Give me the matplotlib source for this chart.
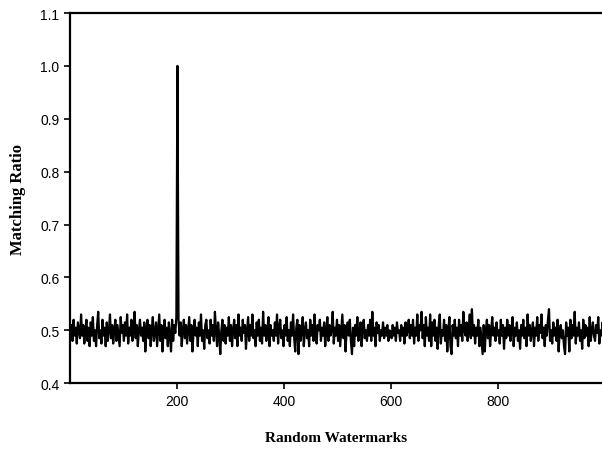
import matplotlib
matplotlib.use('Agg')
import matplotlib.pyplot as plt
import numpy as np

# matching ratio of the random watermarks (one value every 2 marks)
matching_ratio = [
    .495, .51, .48, .52, .49, .505, .475, .515, .50, .485,
    .53, .49, .51, .475, .50, .52, .48, .505, .47, .515,
    .49, .525, .48, .50, .47, .51, .535, .485, .50, .475,
    .52, .49, .505, .47, .515, .48, .50, .53, .485, .51,
    .475, .50, .52, .48, .51, .49, .47, .525, .495, .51,
    .48, .515, .49, .53, .475, .505, .49, .52, .48, .50,
    .535, .485, .51, .47, .50, .52, .49, .505, .48, .515,
    .46, .50, .52, .485, .51, .47, .50, .525, .48, .495,
    .515, .47, .50, .53, .48, .51, .46, .495, .52, .485,
    .505, .47, .515, .49, .46, .52, .48, .51, .495, .525,
    1.0, .52, .49, .515, .47, .50, .52, .485, .51, .475,
    .50, .525, .48, .51, .46, .495, .52, .49, .505, .47,
    .515, .49, .53, .48, .50, .465, .51, .52, .485, .50,
    .475, .52, .49, .51, .48, .535, .50, .47, .515, .49,
    .455, .50, .52, .48, .51, .475, .505, .49, .525, .48,
    .51, .47, .50, .52, .485, .51, .47, .53, .49, .505,
    .48, .52, .495, .51, .465, .50, .525, .48, .51, .49,
    .53, .485, .50, .47, .515, .49, .52, .48, .505, .475,
    .535, .49, .51, .48, .50, .525, .47, .51, .49, .50,
    .48, .515, .49, .53, .475, .505, .52, .485, .50, .47,
    .51, .49, .525, .48, .50, .47, .515, .49, .53, .485,
    .46, .505, .52, .455, .51, .48, .50, .525, .47, .50,
    .515, .485, .50, .47, .52, .49, .51, .48, .53, .495,
    .475, .51, .50, .52, .48, .505, .49, .515, .47, .50,
    .525, .48, .51, .49, .50, .535, .475, .505, .49, .52,
    .48, .51, .47, .50, .53, .485, .51, .46, .50, .515,
    .49, .52, .48, .455, .505, .47, .51, .49, .525, .48,
    .50, .515, .47, .505, .52, .485, .50, .48, .51, .49,
    .52, .48, .535, .49, .505, .47, .515, .495, .51, .48,
    .50, .49, .515, .485, .505, .49, .51, .48, .50, .495,
    .485, .51, .49, .505, .48, .515, .495, .50, .48, .51,
    .49, .505, .475, .515, .49, .50, .52, .485, .51, .49,
    .52, .475, .505, .49, .53, .48, .51, .50, .535, .485,
    .51, .47, .525, .49, .505, .48, .53, .47, .515, .49,
    .52, .48, .505, .465, .51, .53, .475, .50, .49, .52,
    .48, .51, .46, .50, .525, .47, .455, .51, .49, .52,
    .485, .505, .47, .52, .49, .51, .48, .535, .50, .49,
    .515, .48, .50, .53, .485, .54, .49, .51, .475, .505,
    .49, .52, .47, .505, .48, .455, .51, .46, .50, .52,
    .485, .51, .47, .50, .525, .49, .505, .48, .515, .49,
    .50, .475, .52, .49, .51, .465, .505, .485, .52, .49,
    .51, .48, .50, .525, .47, .505, .49, .515, .48, .50,
    .465, .51, .49, .52, .485, .505, .47, .53, .49, .51,
    .48, .50, .515, .47, .505, .49, .525, .48, .51, .495,
    .53, .485, .505, .47, .51, .49, .52, .54, .48, .50,
    .475, .515, .49, .505, .48, .52, .46, .50, .51, .485,
    .50, .47, .455, .515, .49, .505, .46, .52, .485, .51,
    .49, .535, .475, .505, .49, .515, .48, .50, .465, .52,
    .485, .51, .49, .505, .47, .525, .48, .50, .515, .49,
    .48, .51, .495, .525, .475, .50, .49, .515, .48, .50,
]
watermarks = np.arange(1, 2 * len(matching_ratio), 2)

x_ticks = [200, 400, 600, 800]
y_ticks = [0.4, 0.5, 0.6, 0.7, 0.8, 0.9, 1.0, 1.1]

fig = plt.figure(figsize=(6.02, 4.52), dpi=100)
ax = fig.add_axes([0.116, 0.150, 0.884, 0.819])

ax.plot(watermarks, matching_ratio, color='black', linewidth=1.6)

ax.set_xlim(0, 994)
ax.set_ylim(0.4, 1.1)
ax.set_xticks(x_ticks)
ax.set_yticks(y_ticks)
ax.set_yticklabels(['%.1f' % v for v in y_ticks])

for side in ['left', 'bottom', 'top']:
    ax.spines[side].set_linewidth(1.6)
ax.spines['right'].set_visible(False)
ax.tick_params(direction='out', length=4, width=1.2, labelsize=10)
for lab in ax.get_xticklabels() + ax.get_yticklabels():
    lab.set_family('Liberation Sans')

ax.set_xlabel('Random Watermarks', family='Liberation Serif', fontweight='bold',
              fontsize=11, labelpad=17)
ax.set_ylabel('Matching Ratio', family='Liberation Serif', fontweight='bold',
              fontsize=12, labelpad=10)

fig.savefig('out.png', dpi=100)
